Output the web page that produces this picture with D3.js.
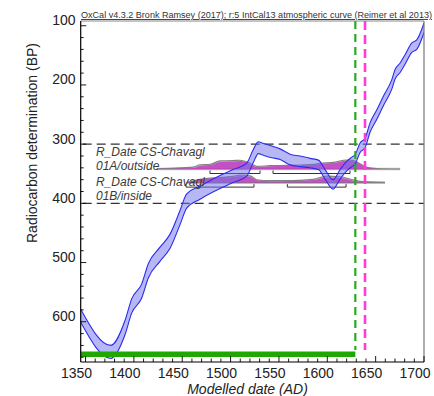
<!DOCTYPE html>
<html lang="en">
  <head>
    <meta charset="utf-8">
    <title>OxCal calibration plot</title>
    <style>
      body { margin: 0; background: #fff; }
      text { font-family: 'Liberation Sans', Arial, sans-serif; }
    </style>
  </head>
  <body>
    <div id="chart-area"></div>
    <script src="https://cdn.jsdelivr.net/npm/d3@7/dist/d3.min.js"></script>
    <script>
      const svg_width = 434;
      const svg_height = 396;

      // calibration curve: cal AD, radiocarbon BP, 1 sigma
      const curve_years = [1345, 1376, 1390.8, 1397.8, 1408.1, 1414.9, 1427, 1437.4, 1447.7, 1454.6,
        1468.4, 1489.1, 1502.5, 1516.7, 1523.5, 1528.7, 1532.5, 1542.6, 1551.2, 1561.5,
        1571.8, 1582.2, 1590.8, 1597.7, 1606, 1613.2, 1620.1, 1625.3, 1628.7, 1633.9,
        1639.1, 1644.2, 1651.2, 1658, 1666.7, 1670.1, 1675.3, 1680.4, 1687.4, 1692.5, 1700.1];
      const curve_bp = [590, 651, 610, 573, 548, 514, 486, 464, 424, 396,
        382, 364, 354, 343, 320, 306, 308, 313, 317, 326,
        329, 332, 335, 351, 368, 351, 337, 330, 326, 306,
        298, 272, 250, 227, 199, 182, 171, 157, 137, 132, 103];
      const curve_err = [11, 11, 12, 12, 12, 12, 12, 12, 12, 12,
        11, 11, 11, 11, 11, 10, 10, 10, 9, 9,
        9, 8, 8, 8, 8, 8, 8, 8, 8, 8,
        8, 8, 8, 8, 8, 8, 8, 8, 8, 8, 8];

      // the two dates
      const date_names = ['R_Date CS-Chavagl', 'R_Date CS-Chavagl'];
      const date_subs = ['01A/outside', '01B/inside'];
      const date_bp = [342, 365];

      // probability (relative) : likelihood and posterior
      const a_years = [1423.6, 1427, 1461.5, 1468.4, 1478.7, 1489.1, 1502.5, 1509.8, 1516.7, 1520.1,
        1527, 1540.8, 1558.4, 1571.8, 1585.3, 1592.5, 1606, 1620.1, 1626.6, 1633.9, 1641.1, 1651.5, 1675.3];
      const a_like = [0, 0.03, 0.2, 0.45, 0.5, 0.85, 0.88, 0.92, 0.75, 0.6,
        0.28, 0.35, 0.38, 0.42, 0.48, 0.6, 0.7, 0.95, 0.9, 0.55, 0.18, 0.05, 0];
      const a_post = [0, 0, 0.1, 0.35, 0.42, 0.75, 0.8, 0.85, 0.68, 0.5,
        0.22, 0.3, 0.32, 0.36, 0.42, 0.52, 0.62, 0.88, 0.85, 0.5, 0.12, 0, 0];
      const b_years = [1454.6, 1468.4, 1489.1, 1502.5, 1509.8, 1520.1, 1527, 1540.8, 1564.6, 1585.3,
        1599.8, 1613.2, 1626.6, 1636.9, 1659.7];
      const b_like = [0, 0.35, 0.55, 0.65, 0.78, 0.72, 0.3, 0.2, 0.22, 0.35, 0.68, 0.62, 0.3, 0.1, 0];
      const b_post = [0, 0.3, 0.5, 0.58, 0.7, 0.62, 0.25, 0.15, 0.17, 0.28, 0.55, 0.5, 0.2, 0.03, 0];

      // highest probability ranges
      const a_ranges = [[1478.7, 1530.4], [1543.9, 1623.5]];
      const b_ranges = [[1453.9, 1524.2], [1558.7, 1619.4]];

      const green_range = [1345, 1629];
      const green_line = 1629;
      const magenta_line = 1639;
      const grid_bp = [300, 400];

      const x_ticks = [1350, 1400, 1450, 1500, 1550, 1600, 1650, 1700];
      const y_ticks = [100, 200, 300, 400, 500, 600];

      const p_left = 80.7, p_right = 424, p_top = 21, p_bottom = 362;

      const x_scale = d3.scaleLinear().domain([1345, 1700]).range([p_left, p_right]);
      const y_scale = d3.scaleLinear().domain([92, 668]).range([p_top, p_bottom]);

      const svg = d3.select('#chart-area')
        .append('svg')
        .attr('width', svg_width)
        .attr('height', svg_height);

      svg.append('clipPath').attr('id', 'plot-clip')
        .append('rect')
        .attr('x', p_left).attr('y', p_top)
        .attr('width', p_right - p_left).attr('height', p_bottom - p_top);

      const plot = svg.append('g').attr('clip-path', 'url(#plot-clip)');

      // dashed grid lines
      plot.selectAll('.grid')
        .data(grid_bp)
        .enter()
        .append('line')
        .attr('x1', p_left + 2).attr('x2', p_right)
        .attr('y1', d => y_scale(d)).attr('y2', d => y_scale(d))
        .attr('stroke', '#333')
        .attr('stroke-width', 1.2)
        .attr('stroke-dasharray', '9,5');

      // date distributions
      const dists = [
        {years: a_years, like: a_like, post: a_post, bp: date_bp[0], ranges: a_ranges, lab_dy: [-13, 0.5]},
        {years: b_years, like: b_like, post: b_post, bp: date_bp[1], ranges: b_ranges, lab_dy: [3.5, 17.5]}
      ];
      const dens_h = 9.5;
      dists.forEach(dist => {
        const base = y_scale(dist.bp);
        const pts = dist.years.map((yr, i) => ({yr: yr, like: dist.like[i], post: dist.post[i]}));
        // long light baseline
        plot.append('line')
          .attr('x1', x_scale(dist.years[0]))
          .attr('x2', x_scale(dist.years[dist.years.length - 1]))
          .attr('y1', base).attr('y2', base)
          .attr('stroke', '#c4c4c4')
          .attr('stroke-width', 2.5);
        const like_area = d3.area()
          .curve(d3.curveMonotoneX)
          .x(d => x_scale(d.yr))
          .y0(base)
          .y1(d => base - d.like * dens_h);
        const post_area = d3.area()
          .curve(d3.curveMonotoneX)
          .x(d => x_scale(d.yr))
          .y0(base)
          .y1(d => base - d.post * dens_h);
        plot.append('path')
          .datum(pts)
          .attr('d', like_area)
          .attr('fill', '#d4d4d4')
          .attr('stroke', '#808080')
          .attr('stroke-width', 1.2);
        plot.append('path')
          .datum(pts)
          .attr('d', post_area)
          .attr('fill', '#bf3abf')
          .attr('fill-opacity', 0.85);
        // range brackets
        dist.ranges.forEach(r => {
          const yb = base + 4.5;
          plot.append('path')
            .attr('d', `M${x_scale(r[0])},${yb - 3}V${yb}H${x_scale(r[1])}V${yb - 3}`)
            .attr('fill', 'none')
            .attr('stroke', '#333')
            .attr('stroke-width', 1);
        });
      });

      // calibration curve band
      const curve_pts = curve_years.map((yr, i) => ({yr: yr, bp: curve_bp[i], err: curve_err[i]}));
      const band = d3.area()
        .curve(d3.curveMonotoneX)
        .x(d => x_scale(d.yr))
        .y0(d => y_scale(d.bp + d.err))
        .y1(d => y_scale(d.bp - d.err));
      plot.append('path')
        .datum(curve_pts)
        .attr('d', band)
        .attr('fill', '#7070ee')
        .attr('fill-opacity', 0.5);
      ['+', '-'].forEach(sign => {
        plot.append('path')
          .datum(curve_pts)
          .attr('d', d3.line()
            .curve(d3.curveMonotoneX)
            .x(d => x_scale(d.yr))
            .y(d => y_scale(sign === '+' ? d.bp + d.err : d.bp - d.err)))
          .attr('fill', 'none')
          .attr('stroke', '#2b2bf0')
          .attr('stroke-width', 1.1);
      });

      // labels for the dates
      dists.forEach((dist, i) => {
        const base = y_scale(dist.bp);
        const lab = svg.append('text')
          .attr('x', 96)
          .attr('font-size', '12px')
          .attr('font-style', 'italic')
          .attr('fill', '#3a3a3a');
        lab.append('tspan').attr('x', 96).attr('y', base + dist.lab_dy[0]).text(date_names[i]);
        lab.append('tspan').attr('x', 96).attr('y', base + dist.lab_dy[1]).text(date_subs[i]);
      });

      // green range bar
      plot.append('rect')
        .attr('x', x_scale(green_range[0]))
        .attr('y', 351.5)
        .attr('width', x_scale(green_range[1]) - x_scale(green_range[0]))
        .attr('height', 5.5)
        .attr('fill', '#1ea800');

      // vertical dashed lines
      plot.append('line')
        .attr('x1', x_scale(green_line)).attr('x2', x_scale(green_line))
        .attr('y1', p_top).attr('y2', 350)
        .attr('stroke', '#2aaa1a')
        .attr('stroke-width', 2.2)
        .attr('stroke-dasharray', '8,5');
      plot.append('line')
        .attr('x1', x_scale(magenta_line)).attr('x2', x_scale(magenta_line))
        .attr('y1', p_top).attr('y2', 350)
        .attr('stroke', '#ff3cd8')
        .attr('stroke-width', 2.6)
        .attr('stroke-dasharray', '9,5');

      // frame
      svg.append('line')
        .attr('x1', p_left).attr('x2', p_right).attr('y1', p_top).attr('y2', p_top)
        .attr('stroke', '#888').attr('stroke-width', 1);
      svg.append('line')
        .attr('x1', p_right).attr('x2', p_right).attr('y1', p_top).attr('y2', p_bottom)
        .attr('stroke', '#777').attr('stroke-width', 1.2);
      svg.append('line')
        .attr('x1', p_left).attr('x2', p_left).attr('y1', p_top).attr('y2', p_bottom)
        .attr('stroke', '#000').attr('stroke-width', 1.2);
      svg.append('line')
        .attr('x1', p_left).attr('x2', p_right).attr('y1', p_bottom).attr('y2', p_bottom)
        .attr('stroke', '#000').attr('stroke-width', 1.2);

      // x ticks (inside) and labels
      const x_minor = d3.range(1350, 1701, 10);
      svg.selectAll('.xtick')
        .data(x_minor)
        .enter()
        .append('line')
        .attr('x1', d => x_scale(d)).attr('x2', d => x_scale(d))
        .attr('y1', p_bottom)
        .attr('y2', d => p_bottom - (d % 50 === 0 ? 6 : 3.5))
        .attr('stroke', '#000')
        .attr('stroke-width', 0.9);
      svg.selectAll('.xlabel')
        .data(x_ticks)
        .enter()
        .append('text')
        .attr('x', d => x_scale(d) - 9)
        .attr('y', 377.5)
        .attr('text-anchor', 'middle')
        .attr('font-size', '14px')
        .attr('fill', '#222')
        .text(d => d);

      // y ticks (inside) and labels
      const y_minor = d3.range(100, 661, 20);
      svg.selectAll('.ytick')
        .data(y_minor)
        .enter()
        .append('line')
        .attr('x1', p_left)
        .attr('x2', d => p_left + (d % 100 === 0 ? 5.5 : 3))
        .attr('y1', d => y_scale(d)).attr('y2', d => y_scale(d))
        .attr('stroke', '#000')
        .attr('stroke-width', 0.9);
      svg.selectAll('.ylabel')
        .data(y_ticks)
        .enter()
        .append('text')
        .attr('x', 75.5)
        .attr('y', d => y_scale(d) - 0.5)
        .attr('text-anchor', 'end')
        .attr('font-size', '14px')
        .attr('fill', '#222')
        .text(d => d);

      // axis titles
      svg.append('text')
        .attr('x', 247.5)
        .attr('y', 393.5)
        .attr('text-anchor', 'middle')
        .attr('font-size', '14px')
        .attr('font-style', 'italic')
        .attr('fill', '#222')
        .text('Modelled date (AD)');
      svg.append('text')
        .attr('transform', 'translate(36.5,143) rotate(-90)')
        .attr('text-anchor', 'middle')
        .attr('font-size', '14px')
        .attr('fill', '#222')
        .text('Radiocarbon determination (BP)');

      // header
      svg.append('text')
        .attr('x', 81)
        .attr('y', 18)
        .attr('font-size', '9.05px')
        .attr('fill', '#333')
        .style('text-decoration', 'underline')
        .text('OxCal v4.3.2 Bronk Ramsey (2017); r:5 IntCal13 atmospheric curve (Reimer et al 2013)');
    </script>
  </body>
</html>
